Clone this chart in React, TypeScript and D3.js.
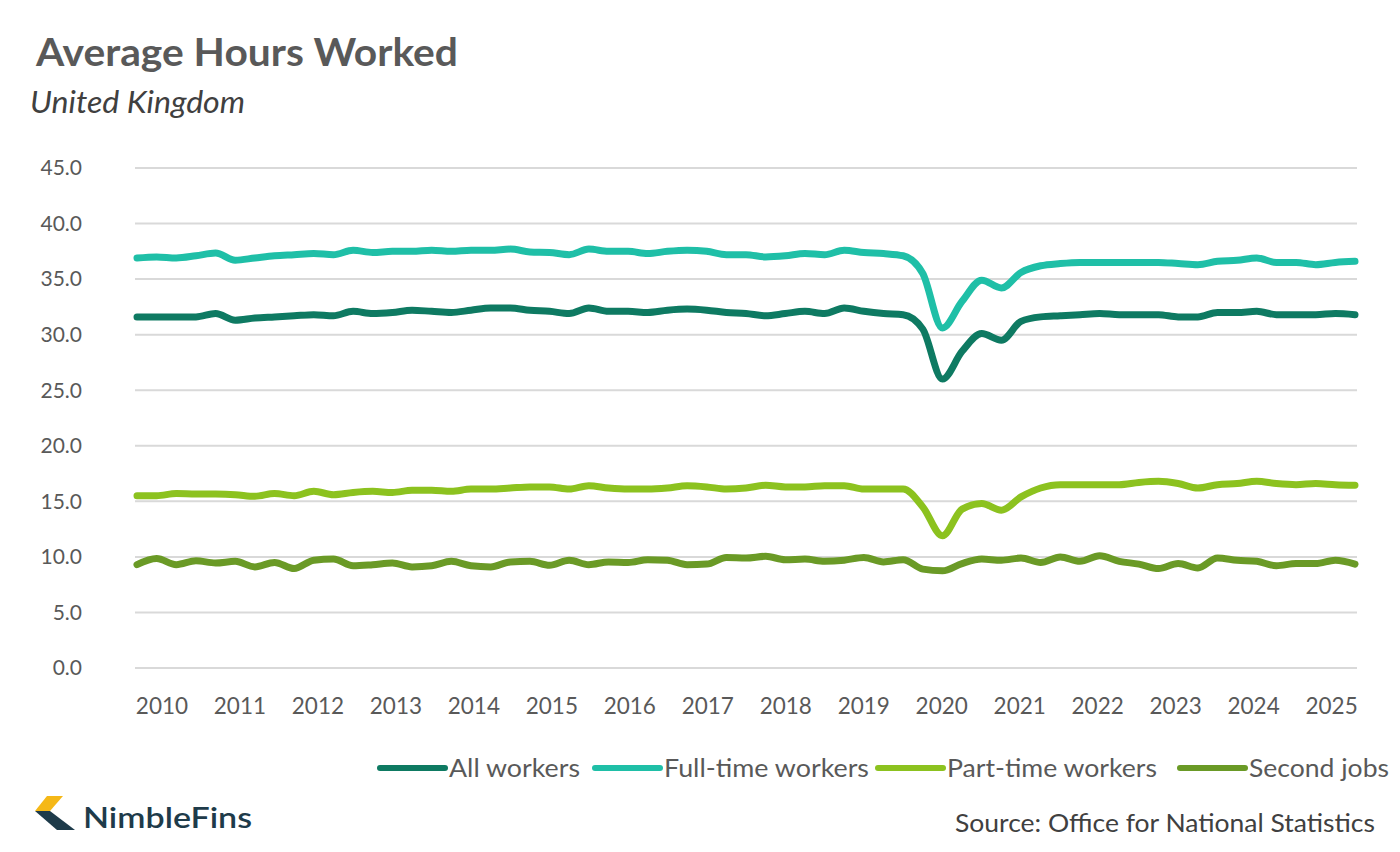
import React, { useEffect, useRef } from 'react'
import * as d3 from 'd3'

// quarterly readings, first point ~Q1 2010, last ~Q3 2025
const startYear = 2010.18
const endYear = 2025.8

const allWorkers = [
  31.6, 31.6, 31.6, 31.6, 31.9, 31.3, 31.5, 31.6, 31.7, 31.8, 31.7, 32.1, 31.9, 32.0, 32.2, 32.1,
  32.0, 32.2, 32.4, 32.4, 32.2, 32.1, 31.9, 32.4, 32.1, 32.1, 32.0, 32.2, 32.3, 32.2, 32.0, 31.9,
  31.7, 31.9, 32.1, 31.9, 32.4, 32.1, 31.9, 31.8, 30.5, 26.0, 28.5, 30.1, 29.5, 31.2, 31.6, 31.7,
  31.8, 31.9, 31.8, 31.8, 31.8, 31.6, 31.6, 32.0, 32.0, 32.1, 31.8, 31.8, 31.8, 31.9, 31.8
]

const fullTime = [
  36.9, 37.0, 36.9, 37.1, 37.35, 36.7, 36.9, 37.1, 37.2, 37.3, 37.2, 37.6, 37.4, 37.5, 37.5, 37.6,
  37.5, 37.6, 37.6, 37.7, 37.45, 37.4, 37.2, 37.7, 37.5, 37.5, 37.3, 37.5, 37.6, 37.5, 37.2, 37.2,
  37.0, 37.1, 37.3, 37.2, 37.6, 37.4, 37.3, 37.1, 35.5, 30.6, 33.0, 34.9, 34.2, 35.6, 36.2, 36.4,
  36.5, 36.5, 36.5, 36.5, 36.5, 36.4, 36.3, 36.6, 36.7, 36.9, 36.5, 36.5, 36.3, 36.5, 36.6
]

const partTime = [
  15.5, 15.5, 15.7, 15.65, 15.65, 15.6, 15.45, 15.7, 15.5, 15.9, 15.6, 15.8, 15.9, 15.8, 16.0, 16.0,
  15.9, 16.1, 16.1, 16.2, 16.3, 16.3, 16.1, 16.4, 16.2, 16.1, 16.1, 16.2, 16.4, 16.3, 16.1, 16.2,
  16.45, 16.3, 16.3, 16.4, 16.4, 16.1, 16.1, 16.1, 14.5, 11.9, 14.3, 14.8, 14.2, 15.4, 16.2, 16.5,
  16.5, 16.5, 16.5, 16.7, 16.8, 16.6, 16.2, 16.5, 16.6, 16.8, 16.6, 16.5, 16.6, 16.5, 16.45
]

const secondJobs = [
  9.3, 9.85, 9.3, 9.65, 9.45, 9.6, 9.1, 9.5, 8.95, 9.7, 9.8, 9.2, 9.3, 9.45, 9.1, 9.2,
  9.6, 9.2, 9.1, 9.55, 9.6, 9.25, 9.7, 9.3, 9.55, 9.5, 9.75, 9.7, 9.3, 9.35, 9.95, 9.9,
  10.05, 9.75, 9.8, 9.6, 9.7, 9.95, 9.55, 9.75, 8.9, 8.75, 9.4, 9.8, 9.7, 9.9, 9.5, 10.0,
  9.6, 10.1, 9.6, 9.35, 8.95, 9.4, 9.0, 9.9, 9.7, 9.6, 9.2, 9.4, 9.4, 9.7, 9.35
]

const years = d3.range(2010, 2026)
const yTicks = d3.range(0, 46, 5)

const series = [
  { name: 'All workers', values: allWorkers, color: '#0e7a62' },
  { name: 'Full-time workers', values: fullTime, color: '#1fbfa7' },
  { name: 'Part-time workers', values: partTime, color: '#8cc21f' },
  { name: 'Second jobs', values: secondJobs, color: '#6a9a26' }
]

const font = 'Lato, "Open Sans", sans-serif'

export default function App() {
  const ref = useRef<SVGSVGElement | null>(null)

  useEffect(() => {
    document.body.style.margin = '0'
    const svg = d3.select(ref.current)
    svg.selectAll('*').remove()

    const left = 137
    const right = 1355
    const top = 168
    const bottom = 668

    const x = d3.scaleLinear().domain([startYear, endYear]).range([left, right])
    const y = d3.scaleLinear().domain([0, 45]).range([bottom, top])

    // title
    svg
      .append('text')
      .attr('x', 36)
      .attr('y', 66)
      .attr('font-family', font)
      .attr('font-weight', 700)
      .attr('font-size', 39)
      .attr('fill', '#595959')
      .attr('textLength', 422)
      .attr('lengthAdjust', 'spacingAndGlyphs')
      .text('Average Hours Worked')

    svg
      .append('text')
      .attr('x', 30)
      .attr('y', 113)
      .attr('font-family', font)
      .attr('font-style', 'italic')
      .attr('font-size', 30)
      .attr('fill', '#404040')
      .attr('textLength', 215)
      .attr('lengthAdjust', 'spacingAndGlyphs')
      .text('United Kingdom')

    // grid
    svg
      .append('g')
      .selectAll('line')
      .data(yTicks)
      .enter()
      .append('line')
      .attr('x1', left - 2)
      .attr('x2', right + 2)
      .attr('y1', d => y(d))
      .attr('y2', d => y(d))
      .attr('stroke', '#d9d9d9')
      .attr('stroke-width', 2)

    svg
      .append('g')
      .selectAll('text')
      .data(yTicks)
      .enter()
      .append('text')
      .attr('x', 82)
      .attr('y', d => y(d))
      .attr('dy', '0.35em')
      .attr('text-anchor', 'end')
      .attr('font-family', font)
      .attr('font-size', 21)
      .attr('fill', '#595959')
      .text(d => d.toFixed(1))

    svg
      .append('g')
      .selectAll('text')
      .data(years)
      .enter()
      .append('text')
      .attr('x', d => x(d + 0.5))
      .attr('y', 706)
      .attr('dy', '0.35em')
      .attr('text-anchor', 'middle')
      .attr('font-family', font)
      .attr('font-size', 22.5)
      .attr('fill', '#595959')
      .text(d => String(d))

    const step = (endYear - startYear) / (allWorkers.length - 1)
    const line = d3
      .line<number>()
      .x((_, i) => x(startYear + i * step))
      .y(d => y(d))
      .curve(d3.curveMonotoneX)

    series
      .slice()
      .reverse()
      .forEach(s => {
        svg
          .append('path')
          .attr('d', line(s.values))
          .attr('fill', 'none')
          .attr('stroke', s.color)
          .attr('stroke-width', 7)
          .attr('stroke-linejoin', 'round')
          .attr('stroke-linecap', 'round')
      })

    // legend
    const legendX = [380, 595, 878, 1180]
    const legendW = [131, 205, 210, 140]
    const legend = svg.append('g')
    series.forEach((s, i) => {
      const g = legend.append('g').attr('transform', `translate(${legendX[i]}, 768)`)
      g.append('line')
        .attr('x1', 0)
        .attr('x2', 65)
        .attr('stroke', s.color)
        .attr('stroke-width', 6)
        .attr('stroke-linecap', 'round')
      g.append('text')
        .attr('x', 69)
        .attr('dy', '0.36em')
        .attr('font-family', font)
        .attr('font-size', 25)
        .attr('fill', '#595959')
        .attr('textLength', legendW[i])
        .attr('lengthAdjust', 'spacingAndGlyphs')
        .text(s.name)
    })

    // logo
    const logo = svg.append('g').attr('transform', 'translate(33, 796)')
    logo.append('path').attr('d', 'M14 0 L30 0 L17 15 L2 15 Z').attr('fill', '#f5b817')
    logo.append('path').attr('d', 'M2 15 L17 15 L42 34 L24 34 Z').attr('fill', '#1e3b4a')
    svg
      .append('text')
      .attr('x', 83)
      .attr('y', 828)
      .attr('font-family', font)
      .attr('font-weight', 600)
      .attr('font-size', 29)
      .attr('fill', '#1e3b4a')
      .attr('textLength', 169)
      .attr('lengthAdjust', 'spacingAndGlyphs')
      .text('NimbleFins')

    svg
      .append('text')
      .attr('x', 955)
      .attr('y', 832)
      .attr('font-family', font)
      .attr('font-size', 25)
      .attr('fill', '#404040')
      .attr('textLength', 420)
      .attr('lengthAdjust', 'spacingAndGlyphs')
      .text('Source: Office for National Statistics')
  }, [])

  return <svg ref={ref} width={1400} height={852} style={{ display: 'block', background: '#fff' }} />
}
